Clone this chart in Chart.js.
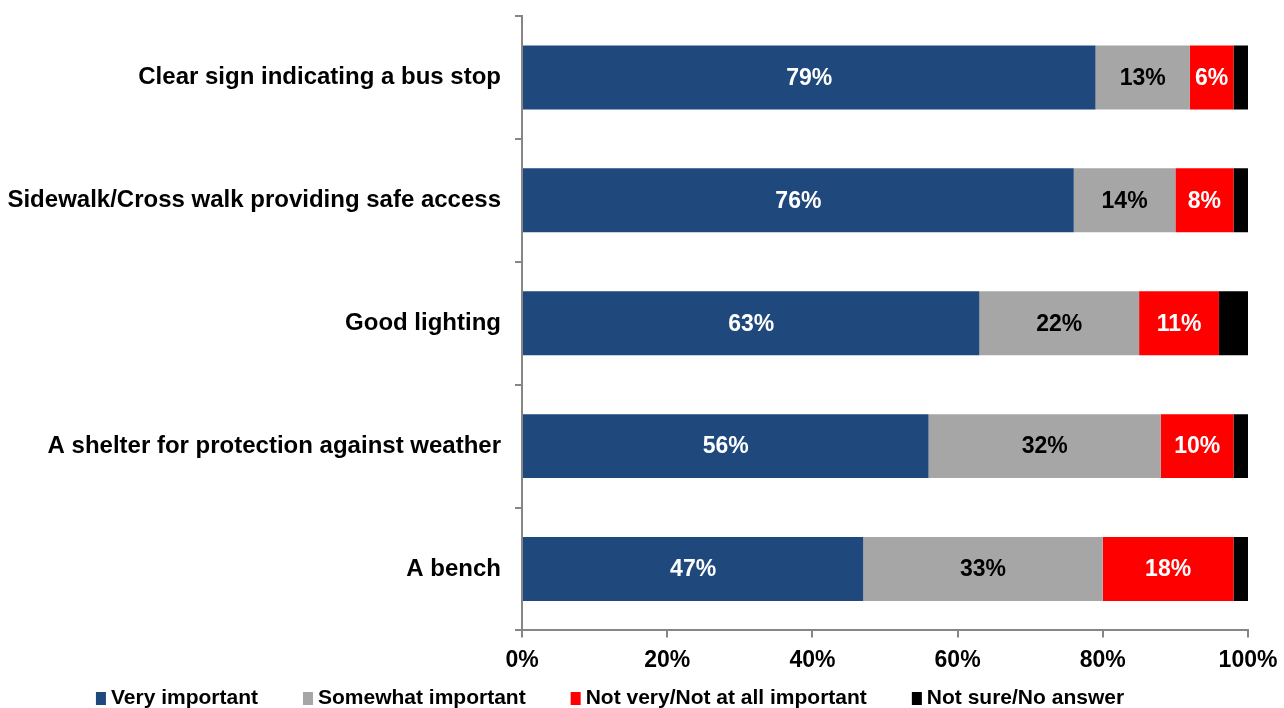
<!DOCTYPE html>
<html lang="en">
  <head>
    <meta charset="UTF-8" />
    <script src="https://cdn.jsdelivr.net/npm/chart.js"></script>
    <title>Bus stop features</title>
    <style>
      html, body { margin: 0; padding: 0; background: #fff; }
      #wrap { width: 1284px; height: 708px; }
    </style>
  </head>
  <body>
    <div id="wrap"><canvas id="myChart"></canvas></div>
    <script>
      const categories = [
        "Clear sign indicating a bus stop",
        "Sidewalk/Cross walk providing safe access",
        "Good lighting",
        "A shelter for protection against weather",
        "A bench"
      ];
      const veryImportant = [79, 76, 63, 56, 47];
      const somewhatImportant = [13, 14, 22, 32, 33];
      const notImportant = [6, 8, 11, 10, 18];
      const notSure = [2, 2, 4, 2, 2];
      const xTicks = [0, 20, 40, 60, 80, 100];

      const FONT = '"Liberation Sans", Arial, sans-serif';
      const axisGrey = "#868686";

      // percent labels in the middle of each segment
      const valueLabels = {
        id: "valueLabels",
        afterDatasetsDraw(chart) {
          const ctx = chart.ctx;
          ctx.save();
          ctx.font = "bold 23px " + FONT;
          ctx.textAlign = "center";
          ctx.textBaseline = "middle";
          chart.data.datasets.forEach((ds, i) => {
            if (!ds.labelColor) return;
            chart.getDatasetMeta(i).data.forEach((bar, j) => {
              const p = bar.getProps(["x", "y", "base"], true);
              ctx.fillStyle = ds.labelColor;
              ctx.fillText(ds.data[j] + "%", (p.x + p.base) / 2, p.y + 1);
            });
          });
          ctx.restore();
        }
      };

      // legend drawn along the bottom, small square boxes
      const bottomLegend = {
        id: "bottomLegend",
        afterDraw(chart, args, opts) {
          const ctx = chart.ctx;
          ctx.save();
          ctx.font = "bold 21px " + FONT;
          ctx.textBaseline = "middle";
          const items = chart.data.datasets.map(ds => ({
            text: ds.label,
            color: ds.backgroundColor,
            w: ctx.measureText(ds.label).width
          }));
          let total = 0;
          items.forEach(it => total += opts.box + opts.gap + it.w);
          total += opts.spacing * (items.length - 1);
          let x = opts.centerX - total / 2;
          items.forEach(it => {
            ctx.fillStyle = it.color;
            ctx.fillRect(x, opts.y - 6, opts.box, 13);
            ctx.fillStyle = "#000";
            ctx.fillText(it.text, x + opts.box + opts.gap, opts.y);
            x += opts.box + opts.gap + it.w + opts.spacing;
          });
          ctx.restore();
        }
      };

      const config = {
        type: "bar",
        data: {
          labels: categories,
          datasets: [
            { label: "Very important", data: veryImportant, backgroundColor: "#1F487C", labelColor: "#fff" },
            { label: "Somewhat important", data: somewhatImportant, backgroundColor: "#A6A6A6", labelColor: "#000" },
            { label: "Not very/Not at all important", data: notImportant, backgroundColor: "#FF0000", labelColor: "#fff" },
            { label: "Not sure/No answer", data: notSure, backgroundColor: "#000000" }
          ]
        },
        options: {
          indexAxis: "y",
          responsive: true,
          maintainAspectRatio: false,
          animation: false,
          layout: { padding: { top: 16, right: 36, bottom: 25, left: 0 } },
          datasets: { bar: { categoryPercentage: 1, barPercentage: 0.52 } },
          scales: {
            x: {
              stacked: true,
              min: 0,
              max: 100,
              afterBuildTicks: s => { s.ticks = xTicks.map(v => ({ value: v })); },
              afterFit: s => { s.paddingLeft = 0; s.paddingRight = 0; },
              ticks: {
                padding: 9,
                color: "#000",
                font: { family: FONT, size: 23, weight: "bold" },
                callback: v => v + "%"
              },
              grid: { drawOnChartArea: false, tickLength: 7, color: axisGrey, lineWidth: 2 },
              border: { color: axisGrey, width: 2 }
            },
            y: {
              stacked: true,
              afterFit: s => { s.width = 522; s.paddingTop = 0; s.paddingBottom = 0; },
              ticks: {
                padding: 14,
                color: "#000",
                font: { family: FONT, size: 24, weight: "bold" }
              },
              grid: { drawOnChartArea: false, tickLength: 7, color: axisGrey, lineWidth: 2 },
              border: { color: axisGrey, width: 2 }
            }
          },
          plugins: {
            legend: { display: false },
            tooltip: { enabled: false },
            bottomLegend: { centerX: 610, y: 698, box: 10, gap: 5, spacing: 45 }
          }
        },
        plugins: [valueLabels, bottomLegend]
      };

      var myChart = new Chart(document.getElementById("myChart"), config);
    </script>
  </body>
</html>
